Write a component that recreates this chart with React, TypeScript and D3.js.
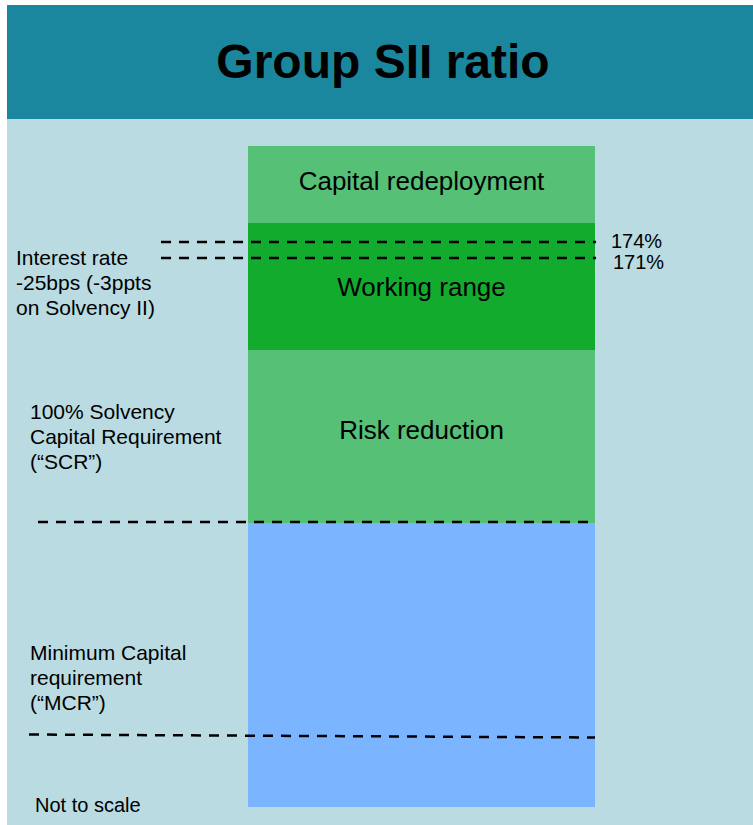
import React, { useEffect, useRef } from "react";
import * as d3 from "d3";

// Group SII ratio diagram (not to scale)
const bandNames = ["Risk reduction", "Working range", "Capital redeployment"];
const bandFrom = [100, 140, 180];
const bandTo = [140, 180, 205];
const bandColors = ["#55c076", "#13ab2e", "#55c076"];

const mcrBandFrom = 0;
const mcrBandTo = 100;

// sensitivity lines (%)
const sensitivityValues = [174, 171];
const sensitivityLabels = ["174%", "171%"];
const scrLevel = 100;
const mcrLevel = 25;

// key levels the (not to scale) vertical axis is broken at
const axisStops = [0, 100, 140, 171, 174, 180, 205];

const leftNotes = [
  ["Interest rate", "-25bps (-3ppts", "on Solvency II)"],
  ["100% Solvency", "Capital Requirement", "(\u201cSCR\u201d)"],
  ["Minimum Capital", "requirement", "(\u201cMCR\u201d)"],
];

const App = () => {
  const chartRef = useRef(null);

  useEffect(() => {
    document.body.style.margin = "0";
    const svg = d3.select(chartRef.current);
    svg.selectAll("*").remove();

    const width = 753;
    const height = 825;
    const font = "'Liberation Sans', Arial, sans-serif";

    svg.attr("width", width).attr("height", height).style("display", "block");

    svg.append("rect").attr("width", width).attr("height", height).attr("fill", "#ffffff");

    // header
    svg
      .append("rect")
      .attr("x", 7)
      .attr("y", 5)
      .attr("width", width - 7)
      .attr("height", 114)
      .attr("fill", "#1a879e");

    svg
      .append("rect")
      .attr("x", 7)
      .attr("y", 119)
      .attr("width", width - 7)
      .attr("height", height - 119)
      .attr("fill", "#b9dbe1");

    svg
      .append("text")
      .attr("x", 383)
      .attr("y", 78)
      .attr("text-anchor", "middle")
      .attr("font-family", font)
      .attr("font-weight", "bold")
      .attr("font-size", 48)
      .attr("fill", "#000")
      .text("Group SII ratio");

    // vertical scale, piecewise because the diagram is not to scale
    const y = d3
      .scaleLinear()
      .domain(axisStops)
      .range([807, 523, 350, 258, 242, 223, 146]);

    const x0 = 248;
    const x1 = 595;
    const cx = (x0 + x1) / 2;

    // MCR / below-SCR block
    svg
      .append("rect")
      .attr("x", x0)
      .attr("y", y(mcrBandTo))
      .attr("width", x1 - x0)
      .attr("height", y(mcrBandFrom) - y(mcrBandTo))
      .attr("fill", "#7bb5ff");

    const labelDy = [2.5, 9.5, 5.5];
    const bands = bandNames.map((name, i) => ({
      name,
      from: bandFrom[i],
      to: bandTo[i],
      color: bandColors[i],
      dy: labelDy[i],
    }));

    svg
      .selectAll(".band")
      .data(bands)
      .enter()
      .append("rect")
      .attr("class", "band")
      .attr("x", x0)
      .attr("y", (d) => y(d.to))
      .attr("width", x1 - x0)
      .attr("height", (d) => y(d.from) - y(d.to))
      .attr("fill", (d) => d.color);

    svg
      .selectAll(".bandLabel")
      .data(bands)
      .enter()
      .append("text")
      .attr("class", "bandLabel")
      .attr("x", cx)
      .attr("y", (d) => (y(d.from) + y(d.to)) / 2 + d.dy)
      .attr("text-anchor", "middle")
      .attr("font-family", font)
      .attr("font-size", 26)
      .attr("fill", "#000")
      .text((d) => d.name);

    const dash = (xa, xb, ya, yb) =>
      svg
        .append("line")
        .attr("x1", xa)
        .attr("x2", xb)
        .attr("y1", ya)
        .attr("y2", yb)
        .attr("stroke", "#000")
        .attr("stroke-width", 2.5)
        .attr("stroke-dasharray", "10,8");

    // sensitivity lines + labels
    sensitivityValues.forEach((v, i) => {
      dash(161, x1 + 1, y(v), y(v));
      svg
        .append("text")
        .attr("x", 611 + i * 2)
        .attr("y", y(v) + 6 + i * 5)
        .attr("font-family", font)
        .attr("font-size", 20)
        .attr("fill", "#000")
        .text(sensitivityLabels[i]);
    });

    dash(38, x1, y(scrLevel) - 1, y(scrLevel) - 1);
    dash(29, x1, y(mcrLevel) - 1.5, y(mcrLevel) + 1.5);

    // left-hand notes
    const noteTops = [
      { x: 16, y: 265 },
      { x: 30, y: 419 },
      { x: 30, y: 660 },
    ];
    leftNotes.forEach((lines, i) => {
      const t = svg
        .append("text")
        .attr("font-family", font)
        .attr("font-size", 21)
        .attr("fill", "#000");
      lines.forEach((line, j) => {
        t.append("tspan")
          .attr("x", noteTops[i].x)
          .attr("y", noteTops[i].y + j * 25)
          .text(line);
      });
    });

    svg
      .append("text")
      .attr("x", 35)
      .attr("y", 812)
      .attr("font-family", font)
      .attr("font-size", 20)
      .attr("fill", "#000")
      .text("Not to scale");
  }, []);

  return <svg ref={chartRef}></svg>;
};

export default App;
